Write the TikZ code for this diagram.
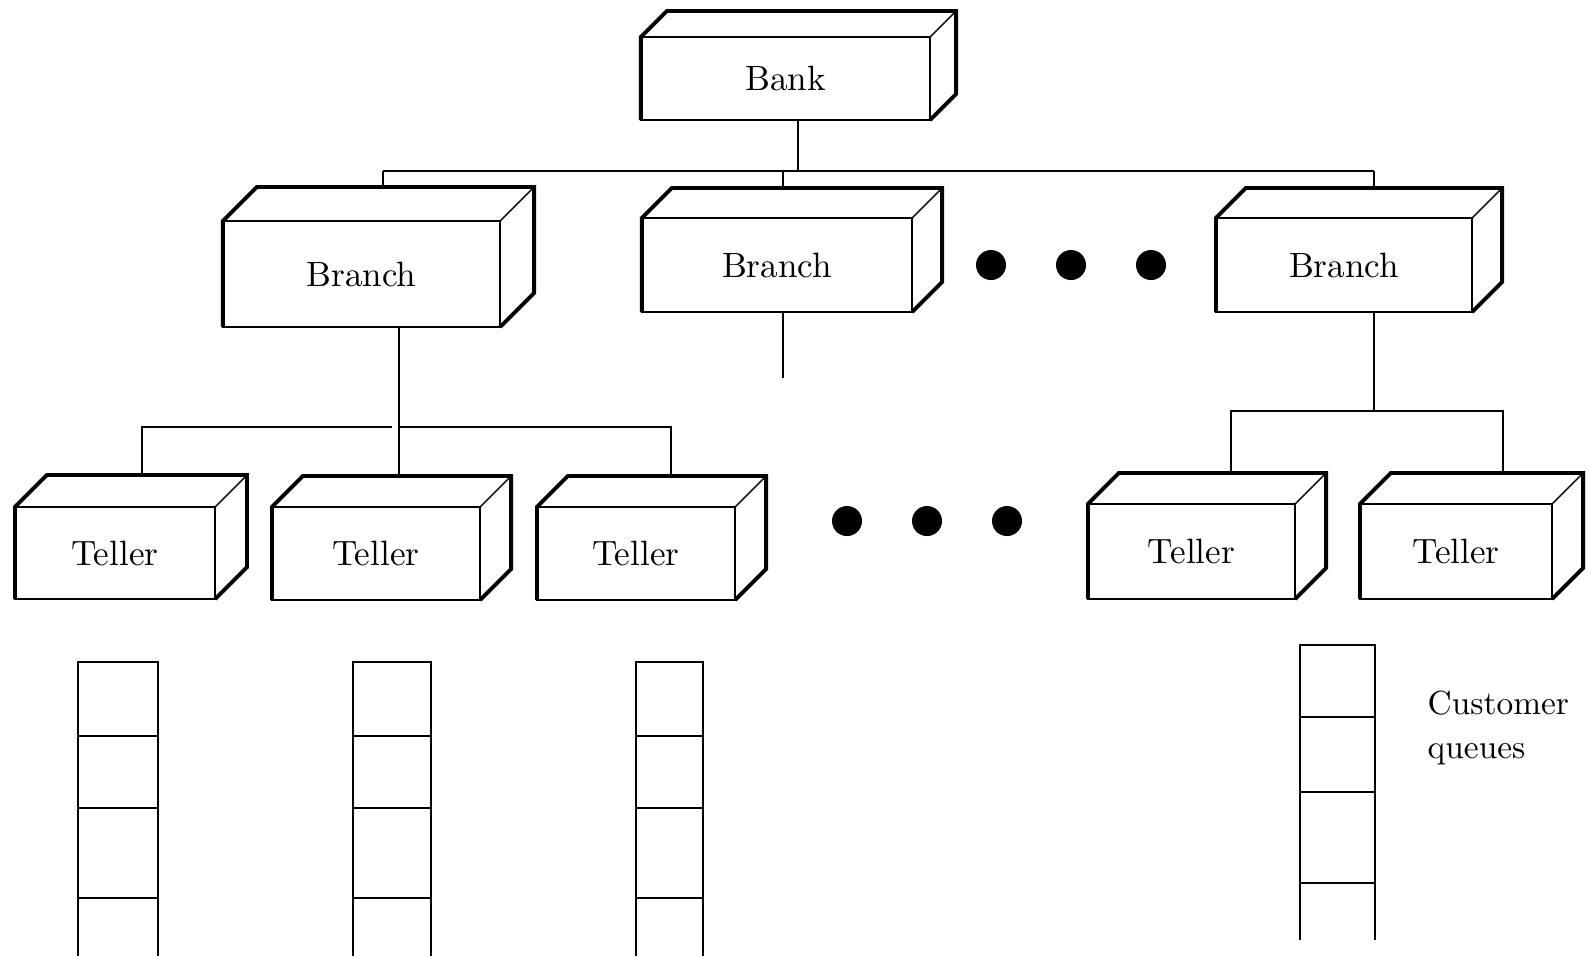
\documentclass[tikz,border=0pt]{standalone}
\usepackage{tikz}
\usetikzlibrary{calc}

\begin{document}
\begin{tikzpicture}[x=0.01cm,y=-0.01cm,
link/.style={line width=0.6pt},
box node/.style={rectangle,draw,line width=0.6pt,inner sep=0pt,outer sep=0pt,font=\fontsize{10}{12}\selectfont},
bank node/.style={box node,minimum width=2.89cm,minimum height=0.83cm},
branch node/.style={box node,minimum height=0.94cm},
teller node/.style={box node,minimum height=0.93cm},
dot node/.style={circle,fill=black,inner sep=0pt,minimum size=0.3cm},
outer edge/.style={line width=1.1pt,line join=miter},
inner edge/.style={line width=0.4pt}]

\useasboundingbox (0,0) rectangle (1591,956);

%Bank
\node[bank node] (bank) at (785.5,78.5) {Bank};

%Branches
\node[branch node,minimum width=2.77cm,minimum height=1.06cm] (br1) at (361.5,274) {Branch};
\node[branch node,minimum width=2.70cm] (br2) at (777,265) {Branch};
\node[branch node,minimum width=2.56cm] (br3) at (1344,265) {Branch};

%Tellers
\node[teller node,minimum width=2.00cm,minimum height=0.92cm] (t1) at (115,553) {Teller};
\node[teller node,minimum width=2.08cm] (t2) at (376,553.5) {Teller};
\node[teller node,minimum width=1.98cm] (t3) at (636,553.5) {Teller};
\node[teller node,minimum width=2.07cm,minimum height=0.95cm] (t4) at (1191.5,551.5) {Teller};
\node[teller node,minimum width=1.92cm,minimum height=0.95cm] (t5) at (1456,551.5) {Teller};

%Depth of the boxes
\foreach \n/\off in {bank/26,br1/34,br2/30,br3/30,t1/32,t2/31,t3/31,t4/31,t5/31}{
  \draw[outer edge] (\n.south west) -- (\n.north west) -- ++(\off,-\off)
    -- ($(\n.north east)+(\off,-\off)$) coordinate (\n-ne)
    -- ($(\n.south east)+(\off,-\off)$) -- (\n.south east);
  \draw[inner edge] (\n.north east) -- (\n-ne);
  \coordinate (\n-back) at ($(\n.north)+(\off,-\off)$);
}

%Dots
\foreach \x/\y [count=\i] in {991/265,1071/265,1151/265,847/521,927/521,1007/521}
  \node[dot node] (dot\i) at (\x,\y) {};

%Paths
\coordinate (drop1) at (383,171);
\coordinate (drop2) at (783,171);
\coordinate (drop3) at (1374,171);
\draw[link] ([xshift=0.125cm]bank.south) -- ([xshift=0.125cm]bank.south |- drop1);
\draw[link] (drop1) -- (drop3);
\foreach \i in {1,2,3}
  \draw[link] (drop\i) -- (drop\i |- br\i-back);

\coordinate (tdrop1) at (142,427);
\coordinate (tdrop2) at (392,427);
\coordinate (tdrop3) at (399,427);
\coordinate (tdrop4) at (671,427);
\draw[link] ([xshift=0.375cm]br1.south) -- ([xshift=0.375cm]br1.south |- t2-back);
\draw[link] (tdrop1 |- t1-back) -- (tdrop1) -- (tdrop2);
\draw[link] (tdrop3) -- (tdrop4) -- (tdrop4 |- t3-back);

\draw[link] ([xshift=0.06cm]br2.south) -- ++(0,66) coordinate (stub);

\coordinate (tdrop5) at (1231,411);
\coordinate (tdrop6) at (1503,411);
\draw[link] ([xshift=0.3cm]br3.south) -- ([xshift=0.3cm]br3.south |- tdrop5);
\draw[link] (tdrop5 |- t4-back) -- (tdrop5) -- (tdrop6) -- (tdrop6 |- t5-back);

%Queues
\foreach \ql/\qr in {78/158,353/431,636/703}{
  \draw[link] (\ql,956) -- (\ql,662) -- (\qr,662) -- (\qr,956);
  \foreach \y in {736,808,898}
    \draw[link] (\ql,\y) -- (\qr,\y);
}
\draw[link] (1300,940) -- (1300,645) -- (1375,645) -- (1375,940);
\foreach \y in {717,792,883}
  \draw[link] (1300,\y) -- (1375,\y);

\node[align=left,anchor=north west,inner sep=0pt,font=\fontsize{9.5}{12.5}\selectfont] (qlabel) at (1427,690) {Customer\\queues};
\end{tikzpicture}
\end{document}
